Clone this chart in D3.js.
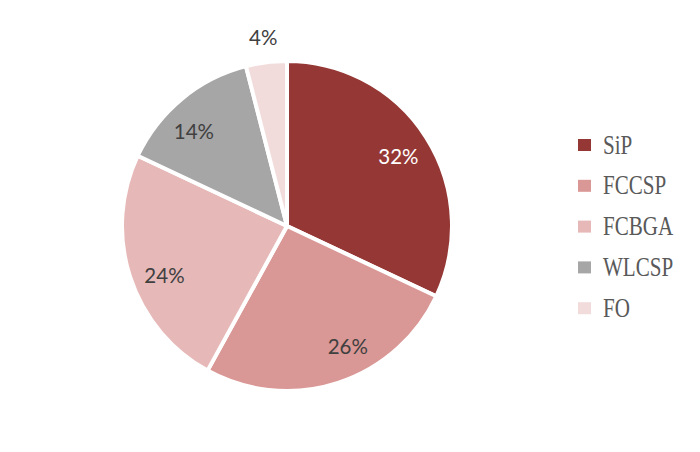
<!DOCTYPE html>
<html>
<head>
<meta charset="utf-8">
<script src="https://cdn.jsdelivr.net/npm/d3@7"></script>
<style>
	body { margin: 0; background: #fff; }
</style>
</head>
<body>
<div id="chart"></div>
<script>
// chart values
var categories = ["SiP", "FCCSP", "FCBGA", "WLCSP", "FO"];
var shares = [32, 26, 24, 14, 4];
var sliceColors = ["#953735", "#d99795", "#e6b9b8", "#a6a6a6", "#f2dcdb"];
var labelColors = ["#ffffff", "#404040", "#404040", "#404040", "#404040"];

var width = 700, height = 452;
var cx = 287, cy = 226, radius = 165;

// small "best fit" nudges for the percentage labels, like the original
var labelNudge = [[0, 2], [20, -5], [3, 9], [-9, 8], [0, 0]];

var svg = d3.select("#chart").append("svg")
	.attr("width", width)
	.attr("height", height);

var data = categories.map(function(c, i) {
	return { name: c, value: shares[i], color: sliceColors[i], labelColor: labelColors[i], nudge: labelNudge[i] };
});

var pie = d3.pie()
	.sort(null)
	.value(function(d) { return d.value; });

var arcs = pie(data);

var arc = d3.arc()
	.innerRadius(0)
	.outerRadius(radius);

// labels inside sit near 0.8R, the small one goes outside
var labelArc = d3.arc().innerRadius(132).outerRadius(132);
var outerLabelArc = d3.arc().innerRadius(190).outerRadius(190);

var g = svg.append("g")
	.attr("transform", "translate(" + cx + "," + cy + ")");

g.selectAll(".slice")
	.data(arcs).enter()
	.append("path")
		.attr("class", "slice")
		.attr("d", arc)
		.attr("fill", function(d) { return d.data.color; })
		.attr("stroke", "#fff")
		.attr("stroke-width", 4)
		.attr("stroke-linejoin", "round");

g.selectAll(".pct")
	.data(arcs).enter()
	.append("text")
		.attr("class", "pct")
		.attr("transform", function(d) {
			var c = d.data.value < 5 ? outerLabelArc.centroid(d) : labelArc.centroid(d);
			return "translate(" + (c[0] + d.data.nudge[0]) + "," + (c[1] + d.data.nudge[1]) + ")";
		})
		.attr("text-anchor", "middle")
		.attr("dy", "0.35em")
		.attr("fill", function(d) { return d.data.labelColor; })
		.style("font-family", "Lato, 'Open Sans', sans-serif")
		.style("font-size", "20.5px")
		.text(function(d) { return d.data.value + "%"; });

// legend
var legend = svg.append("g")
	.attr("transform", "translate(578,145)");

var rows = legend.selectAll(".lg")
	.data(data).enter()
	.append("g")
		.attr("class", "lg")
		.attr("transform", function(d, i) { return "translate(0," + (i * 40.8) + ")"; });

rows.append("rect")
	.attr("x", 0)
	.attr("y", -6)
	.attr("width", 13)
	.attr("height", 12)
	.attr("fill", function(d) { return d.color; });

rows.append("text")
	.attr("transform", "translate(25,0) scale(0.78,1)")
	.attr("dy", "0.32em")
	.attr("fill", "#595959")
	.style("font-family", "'Liberation Serif', 'DejaVu Serif', serif")
	.style("font-size", "27px")
	.text(function(d) { return d.name; });
</script>
</body>
</html>
